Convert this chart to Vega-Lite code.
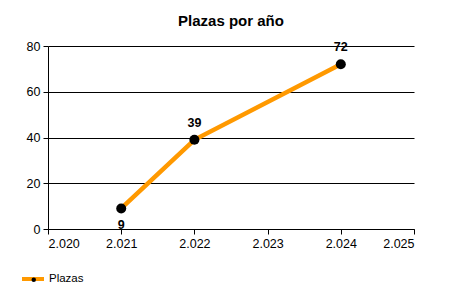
{
  "$schema": "https://vega.github.io/schema/vega-lite/v6.json",
  "autosize": "none",
  "width": 366,
  "height": 183,
  "padding": {"left": 48, "top": 46, "right": 36, "bottom": 71},
  "background": "white",
  "title": {
    "text": "Plazas por año",
    "font": "Liberation Sans",
    "fontSize": 15,
    "fontWeight": "bold",
    "color": "black",
    "anchor": "middle",
    "frame": "group",
    "baseline": "alphabetic",
    "offset": -1
  },
  "data": {
    "values": [
      {"year": 2021, "plazas": 9, "serie": "Plazas"},
      {"year": 2022, "plazas": 39, "serie": "Plazas"},
      {"year": 2024, "plazas": 72, "serie": "Plazas"}
    ]
  },
  "encoding": {
    "x": {
      "field": "year",
      "type": "quantitative",
      "scale": {"domain": [2020, 2025], "nice": false, "zero": false},
      "axis": {"values": [2020, 2021, 2022, 2023, 2024, 2025], "format": ",d", "title": null, "grid": false}
    },
    "y": {
      "field": "plazas",
      "type": "quantitative",
      "scale": {"domain": [0, 80], "nice": false},
      "axis": {"values": [0, 20, 40, 60, 80], "title": null, "grid": true}
    }
  },
  "layer": [
    {
      "mark": {"type": "line", "strokeWidth": 4.5},
      "encoding": {
        "stroke": {
          "field": "serie",
          "type": "nominal",
          "scale": {"range": ["#FF9900"]},
          "legend": {
            "orient": "none",
            "legendX": -28,
            "legendY": 220,
            "title": null,
            "symbolType": "stroke",
            "symbolSize": 484,
            "symbolStrokeWidth": 4,
            "labelOffset": 3,
            "padding": 0
          }
        }
      }
    },
    {
      "mark": {"type": "point", "filled": true, "size": 100, "opacity": 1},
      "encoding": {
        "fill": {
          "field": "serie",
          "type": "nominal",
          "scale": {"range": ["black"]},
          "legend": {
            "orient": "none",
            "legendX": -20,
            "legendY": 228,
            "title": null,
            "symbolType": "circle",
            "symbolSize": 20,
            "symbolStrokeWidth": 0,
            "symbolOpacity": 1,
            "labelExpr": "''",
            "padding": 0
          }
        }
      }
    },
    {
      "transform": [{"filter": "datum.plazas >= 20"}],
      "mark": {"type": "text", "dy": -13, "baseline": "alphabetic", "font": "Liberation Sans", "fontSize": 12.5, "fontWeight": "bold", "color": "black"},
      "encoding": {"text": {"field": "plazas", "type": "quantitative"}}
    },
    {
      "transform": [{"filter": "datum.plazas < 20"}],
      "mark": {"type": "text", "dy": 21, "baseline": "alphabetic", "font": "Liberation Sans", "fontSize": 12.5, "fontWeight": "bold", "color": "black"},
      "encoding": {"text": {"field": "plazas", "type": "quantitative"}}
    }
  ],
  "config": {
    "locale": {"number": {"decimal": ",", "thousands": ".", "grouping": [3], "currency": ["", " €"]}},
    "view": {"stroke": null},
    "font": "Liberation Sans",
    "axis": {
      "domainColor": "black",
      "domainWidth": 1,
      "tickColor": "black",
      "tickSize": 5,
      "tickWidth": 1,
      "gridColor": "black",
      "gridWidth": 1,
      "gridOpacity": 1,
      "labelFont": "Liberation Sans",
      "labelFontSize": 12.5,
      "labelColor": "black",
      "labelPadding": 3
    },
    "legend": {
      "labelFont": "Liberation Sans",
      "labelFontSize": 11.5,
      "labelColor": "black"
    }
  }
}
